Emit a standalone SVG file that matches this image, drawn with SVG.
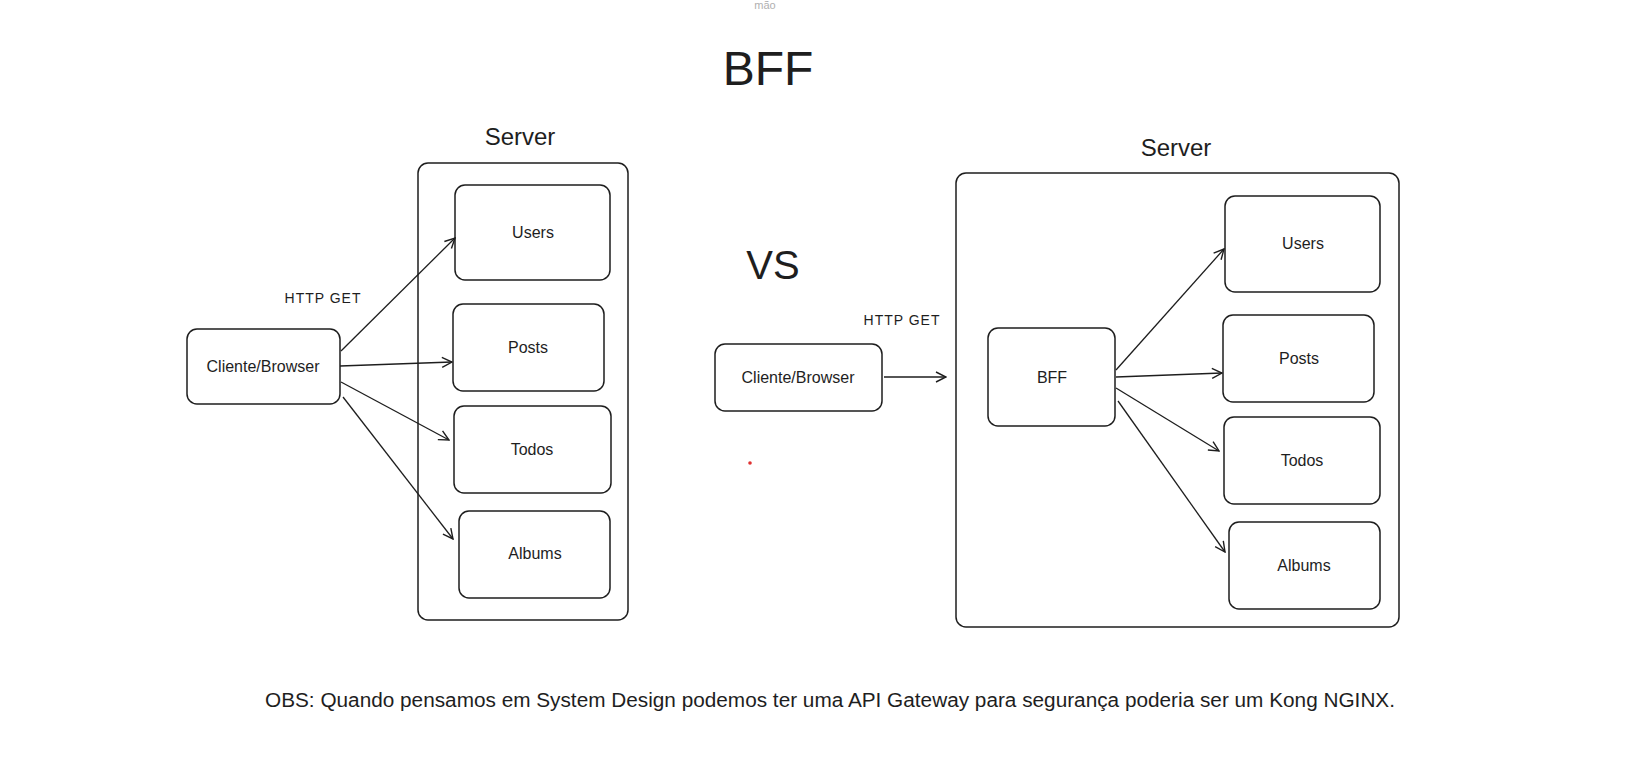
<svg xmlns="http://www.w3.org/2000/svg" width="1629" height="777" viewBox="0 0 1629 777">
<style>
.box{fill:none;stroke:#1e1e1e;stroke-width:1.5}
.lbl{font-family:"Liberation Sans",Arial,sans-serif;font-size:16px;fill:#1e1e1e;text-anchor:middle;dominant-baseline:central}
.title{font-family:"Liberation Sans",Arial,sans-serif;fill:#1e1e1e;text-anchor:middle}
.conn line{stroke:#1e1e1e;stroke-width:1.3;marker-end:url(#arr)}
</style>
<defs>
<marker id="arr" viewBox="0 0 12 12" refX="11" refY="6" markerWidth="12" markerHeight="12" markerUnits="userSpaceOnUse" orient="auto">
<path d="M1,1 L11,6 L1,11" fill="none" stroke="#1e1e1e" stroke-width="1.4"/>
</marker>
</defs>
<rect width="1629" height="777" fill="#ffffff"/>
<text x="765" y="9" class="title" font-size="11" style="fill:#b0b0b0">mão</text>
<text x="768" y="85" class="title" font-size="48">BFF</text>
<text x="773" y="279" class="title" font-size="40">VS</text>

<g id="left-server">
<text x="520" y="145" class="title" font-size="24">Server</text>
<rect class="box" x="418" y="163" width="210" height="457" rx="10"/>
</g>
<g id="left-users"><rect class="box" x="455" y="185" width="155" height="95" rx="10"/><text x="533" y="232" class="lbl">Users</text></g>
<g id="left-posts"><rect class="box" x="453" y="304" width="151" height="87" rx="10"/><text x="528" y="347" class="lbl">Posts</text></g>
<g id="left-todos"><rect class="box" x="454" y="406" width="157" height="87" rx="10"/><text x="532" y="449" class="lbl">Todos</text></g>
<g id="left-albums"><rect class="box" x="459" y="511" width="151" height="87" rx="10"/><text x="535" y="553" class="lbl">Albums</text></g>
<g id="left-client"><rect class="box" x="187" y="329" width="153" height="75" rx="10"/><text x="263" y="366" class="lbl">Cliente/Browser</text></g>
<text x="323" y="298" class="lbl" style="font-size:14px;letter-spacing:1px">HTTP GET</text>

<g id="right-server">
<text x="1176" y="156" class="title" font-size="24">Server</text>
<rect class="box" x="956" y="173" width="443" height="454" rx="10"/>
</g>
<g id="right-bff"><rect class="box" x="988" y="328" width="127" height="98" rx="10"/><text x="1052" y="377" class="lbl">BFF</text></g>
<g id="right-users"><rect class="box" x="1225" y="196" width="155" height="96" rx="10"/><text x="1303" y="243" class="lbl">Users</text></g>
<g id="right-posts"><rect class="box" x="1223" y="315" width="151" height="87" rx="10"/><text x="1299" y="358" class="lbl">Posts</text></g>
<g id="right-todos"><rect class="box" x="1224" y="417" width="156" height="87" rx="10"/><text x="1302" y="460" class="lbl">Todos</text></g>
<g id="right-albums"><rect class="box" x="1229" y="522" width="151" height="87" rx="10"/><text x="1304" y="565" class="lbl">Albums</text></g>
<g id="right-client"><rect class="box" x="715" y="344" width="167" height="67" rx="10"/><text x="798" y="377" class="lbl">Cliente/Browser</text></g>
<text x="902" y="320" class="lbl" style="font-size:14px;letter-spacing:1px">HTTP GET</text>

<circle cx="750" cy="463" r="1.8" fill="#e03131"/>

<g id="connectors" class="conn">
<line x1="341" y1="351" x2="455" y2="238"/>
<line x1="340" y1="366" x2="452" y2="362"/>
<line x1="341" y1="382" x2="449" y2="440"/>
<line x1="343" y1="397" x2="453" y2="539"/>
<line x1="884" y1="377" x2="946" y2="377"/>
<line x1="1116" y1="370" x2="1224" y2="249"/>
<line x1="1116" y1="377" x2="1222" y2="373"/>
<line x1="1116" y1="388" x2="1219" y2="451"/>
<line x1="1118" y1="401" x2="1225" y2="552"/>
</g>

<text x="265" y="707" font-family="'Liberation Sans',Arial,sans-serif" font-size="20" fill="#1e1e1e" textLength="1130" lengthAdjust="spacingAndGlyphs">OBS: Quando pensamos em System Design podemos ter uma API Gateway para segurança poderia ser um Kong NGINX.</text>
</svg>
